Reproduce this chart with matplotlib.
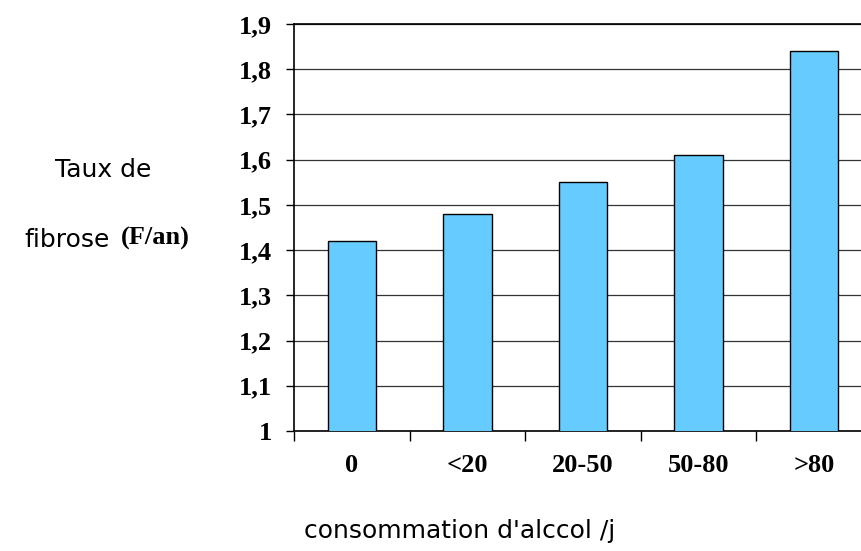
import matplotlib.pyplot as plt
from matplotlib.ticker import FuncFormatter

# fibrosis rate by daily alcohol intake
categories = ["0", "<20", "20-50", "50-80", ">80"]
taux = [1.42, 1.48, 1.55, 1.61, 1.84]
yticks = [1.0, 1.1, 1.2, 1.3, 1.4, 1.5, 1.6, 1.7, 1.8, 1.9]

W, H = 862, 551
fig = plt.figure(figsize=(W / 100, H / 100), dpi=100)
# the category area runs slightly past the right edge of the figure
ax = fig.add_axes([294 / W, 1 - 431 / H, 578 / W, (431 - 24) / H])

x = range(len(categories))
ax.bar(x, taux, width=0.42, color="#66CCFF", edgecolor="black",
       linewidth=1.0, zorder=3)

ax.set_xlim(-0.5, len(categories) - 0.5)
ax.set_ylim(1.0, 1.9)
ax.set_yticks(yticks)
ax.yaxis.set_major_formatter(
    FuncFormatter(lambda v, p: "1" if abs(v - 1) < 1e-9 else f"{v:.1f}".replace(".", ",")))
ax.grid(True, axis="y", color="#333333", linewidth=0.9, zorder=0)
ax.set_axisbelow(True)

serif = dict(family="Liberation Serif", weight="bold")
for lab in ax.get_yticklabels():
    lab.set_fontproperties(serif)
    lab.set_fontsize(19)
ax.tick_params(axis="y", direction="out", length=6, width=1, pad=10)

# x ticks sit on the category boundaries, labels centred on the bars
ax.set_xticks([i - 0.5 for i in range(len(categories))])
ax.set_xticklabels([])
ax.tick_params(axis="x", direction="out", length=7, width=1)
for i, c in enumerate(categories):
    fig.text((294 + (i + 0.5) * 115.6) / W, 1 - 466 / H, c, ha="center",
             va="center", fontsize=19, **serif)

for s in ["left", "bottom", "top"]:
    ax.spines[s].set_color("black")
    ax.spines[s].set_linewidth(1.2)
ax.spines["right"].set_visible(False)

sans = dict(family="DejaVu Sans")
fig.text(103 / W, 1 - 170 / H, "Taux de", ha="center", va="center", fontsize=18, **sans)
fig.text(110 / W, 1 - 240 / H, "fibrose", ha="right", va="center", fontsize=18, **sans)
fig.text(121 / W, 1 - 238 / H, "(F/an)", ha="left", va="center", fontsize=19, **serif)
fig.text(460 / W, 1 - 531 / H, "consommation d'alccol /j", ha="center", va="center",
         fontsize=18, **sans)

fig.savefig("out.png", dpi=100)
